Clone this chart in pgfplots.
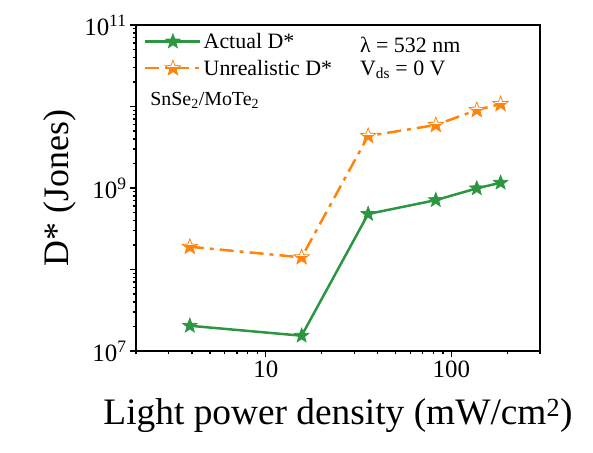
\documentclass[border=0pt]{standalone}
\usepackage{pgfplots}
\pgfplotsset{compat=1.18}
\usepackage{fontspec}
\setmainfont{Liberation Serif}

\definecolor{dgreen}{RGB}{44,150,64}
\definecolor{dorange}{RGB}{255,132,12}

% five-pointed star outline used by the markers
\newcommand\starpath{%
  \pgfpathmoveto{\pgfpointpolar{90}{\pgfplotmarksize}}%
  \pgfpathlineto{\pgfpointpolar{126}{0.42\pgfplotmarksize}}%
  \pgfpathlineto{\pgfpointpolar{162}{\pgfplotmarksize}}%
  \pgfpathlineto{\pgfpointpolar{198}{0.42\pgfplotmarksize}}%
  \pgfpathlineto{\pgfpointpolar{234}{\pgfplotmarksize}}%
  \pgfpathlineto{\pgfpointpolar{270}{0.42\pgfplotmarksize}}%
  \pgfpathlineto{\pgfpointpolar{306}{\pgfplotmarksize}}%
  \pgfpathlineto{\pgfpointpolar{342}{0.42\pgfplotmarksize}}%
  \pgfpathlineto{\pgfpointpolar{18}{\pgfplotmarksize}}%
  \pgfpathlineto{\pgfpointpolar{54}{0.42\pgfplotmarksize}}%
  \pgfpathclose}
% filled star
\pgfdeclareplotmark{fstar}{\starpath\pgfusepathqfillstroke}
% star with white upper part and orange lower part
\pgfdeclareplotmark{hstar}{%
  \starpath\pgfsetfillcolor{white}\pgfusepathqfill
  \begin{pgfscope}
    \pgfpathrectangle{\pgfpoint{-2\pgfplotmarksize}{-2\pgfplotmarksize}}{\pgfpoint{4\pgfplotmarksize}{2.1\pgfplotmarksize}}%
    \pgfusepathqclip
    \starpath\pgfsetfillcolor{dorange}\pgfusepathqfill
  \end{pgfscope}
  \starpath\pgfusepathqstroke}

\begin{document}
\begin{tikzpicture}
\begin{axis}[
  scale only axis, width=404bp, height=326bp,
  xmode=log, ymode=log,
  xmin=2, xmax=300, ymin=1e7, ymax=1e11,
  axis line style={line width=1.6bp},
  tick style={line width=1.3bp, black},
  tick align=outside, xtick pos=bottom, ytick pos=left,
  major tick length=6bp, minor tick length=3.5bp,
  xtick={10,100}, xticklabels={10,100},
  minor xtick={2,3,4,5,6,7,8,9,20,30,40,50,60,70,80,90,200,300},
  ytick={1e7,1e8,1e9,1e10,1e11},
  yticklabels={10\textsuperscript{7},,10\textsuperscript{9},,10\textsuperscript{11}},
  minor ytick={2e7,3e7,4e7,5e7,6e7,7e7,8e7,9e7,
               2e8,3e8,4e8,5e8,6e8,7e8,8e8,9e8,
               2e9,3e9,4e9,5e9,6e9,7e9,8e9,9e9,
               2e10,3e10,4e10,5e10,6e10,7e10,8e10,9e10},
  ticklabel style={font=\fontsize{25}{30}\selectfont},
  xlabel={Light power density (mW/cm\textsuperscript{2})},
  ylabel={D* (Jones)},
  label style={font=\fontsize{36}{42}\selectfont},
  xlabel style={at={(rel axis cs:0.5,-0.227)}, anchor=base,
                font=\fontsize{37.5}{44}\selectfont},
  ylabel style={at={(rel axis cs:-0.188,0.5)}, anchor=center},
  legend style={draw=none, fill=none, at={(rel axis cs:0,1)}, anchor=north west,
                xshift=5bp, yshift=-4bp,
                font=\fontsize{22}{26}\selectfont, row sep=6bp},
  legend cell align=left,
  legend image code/.code={\draw[mark repeat=2,mark phase=2,#1]
      plot coordinates {(0bp,0bp) (27.5bp,0bp) (55bp,0bp)};},
]
\coordinate (bl) at (rel axis cs:0,0);

\addplot[dgreen, line width=2.5bp, mark=fstar, mark size=7.5bp,
         mark options={solid, fill=dgreen, line width=0.8bp}]
  coordinates {(3.9,2.04e7) (15.6,1.54e7) (35.6,4.8e8) (82.4,7.1e8) (137,9.9e8) (184,1.16e9)};
\addlegendentry{Actual D*}

\addplot[dorange, line width=2.5bp, dash pattern=on 14bp off 6bp on 4bp off 6bp,
         mark=hstar, mark size=8bp, mark options={solid, line width=0.8bp}]
  coordinates {(3.9,1.9e8) (15.6,1.41e8) (35.6,4.35e9) (82.4,5.93e9) (137,9.06e9) (184,1.07e10)};
\addlegendentry{Unrealistic D*}

\node[anchor=west, inner sep=0pt, font=\fontsize{22}{26}\selectfont]
  at (rel axis cs:0.554,0.939) {λ = 532 nm};
\node[anchor=west, inner sep=0pt, font=\fontsize{22}{26}\selectfont]
  at (rel axis cs:0.554,0.862) {V\textsubscript{ds} = 0 V};
\node[anchor=west, inner sep=0pt, font=\fontsize{20}{24}\selectfont]
  at (rel axis cs:0.035,0.77) {SnSe\textsubscript{2}/MoTe\textsubscript{2}};
\end{axis}
\pgfresetboundingbox
\useasboundingbox (bl) ++(-136bp,-102bp) rectangle ++(593bp,453bp);
\end{tikzpicture}
\end{document}
